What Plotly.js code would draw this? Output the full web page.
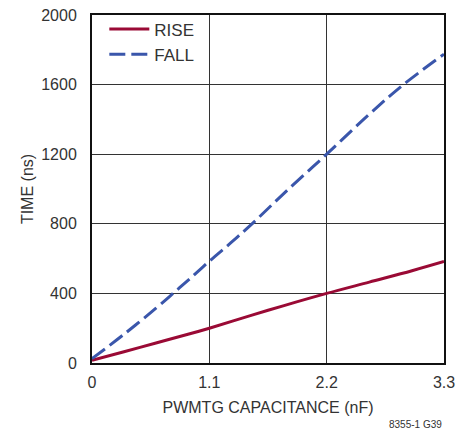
<!DOCTYPE html>
<html><head><meta charset="utf-8">
<script src="https://cdn.plot.ly/plotly-3.0.1.min.js"></script>
<style>html,body{margin:0;padding:0;background:#fff;}#chart{width:471px;height:435px;}</style>
</head><body><div id="chart"></div>
<script>
const riseX = [0, 0.3, 0.6, 0.9, 1.1, 1.5, 1.8, 2.2, 2.6, 3.0, 3.3];
const riseY = [15, 65, 115, 165, 200, 275, 330, 400, 465, 530, 583];
const fallX = [0, 0.3, 0.6, 0.76, 0.9, 1.1, 1.3, 1.5, 1.8, 2.2, 2.6, 2.92, 3.3];
const fallY = [25, 165, 315, 400, 475, 585, 690, 800, 975, 1200, 1430, 1600, 1775];
const xTicks = [0, 1.1, 2.2, 3.3];
const xTickText = ['0', '1.1', '2.2', '3.3'];
const yTicks = [0, 400, 800, 1200, 1600, 2000];

const font = 'Liberation Sans Narrow, Arial Narrow, Liberation Sans, sans-serif';
const data = [
  {x: riseX, y: riseY, mode: 'lines', name: 'RISE', line: {color: '#9a0a35', width: 3, shape: 'spline'}},
  {x: fallX, y: fallY, mode: 'lines', name: 'FALL', line: {color: '#3a56ab', width: 3, dash: '16px,6px', shape: 'spline'}}
];
const layout = {
  width: 471, height: 435,
  margin: {l: 92, r: 27, t: 12, b: 72},
  paper_bgcolor: '#fff', plot_bgcolor: '#fff',
  font: {family: font, size: 16, color: '#333'},
  showlegend: true,
  legend: {x: 0.035, y: 1.01, xanchor: 'left', yanchor: 'top', bgcolor: 'rgba(0,0,0,0)',
           font: {family: font, size: 17, color: '#333'}, tracegroupgap: 0, itemwidth: 40},
  xaxis: {range: [0, 3.3], tickvals: xTicks, ticktext: xTickText, showgrid: true, gridcolor: '#333', gridwidth: 1,
          zeroline: false, showline: true, linecolor: '#111', linewidth: 2, mirror: true, ticks: '',
          ticklabelstandoff: 4,
          title: {text: 'PWMTG CAPACITANCE (nF)', font: {family: font, size: 16, color: '#333'}, standoff: 12}},
  yaxis: {range: [0, 2000], tickvals: yTicks, showgrid: true, gridcolor: '#333', gridwidth: 1,
          zeroline: false, showline: true, linecolor: '#111', linewidth: 2, mirror: true, ticks: '',
          ticklabelstandoff: 10,
          title: {text: 'TIME (ns)', font: {family: font, size: 16, color: '#333'}, standoff: 4}},
  annotations: [{text: '8355-1 G39', xref: 'paper', yref: 'paper', x: 1.0, y: -0.177, xanchor: 'right', yanchor: 'middle',
                 showarrow: false, font: {family: font, size: 10, color: '#333'}}]
};
Plotly.newPlot('chart', data, layout, {displayModeBar: false, staticPlot: true});
</script></body></html>
